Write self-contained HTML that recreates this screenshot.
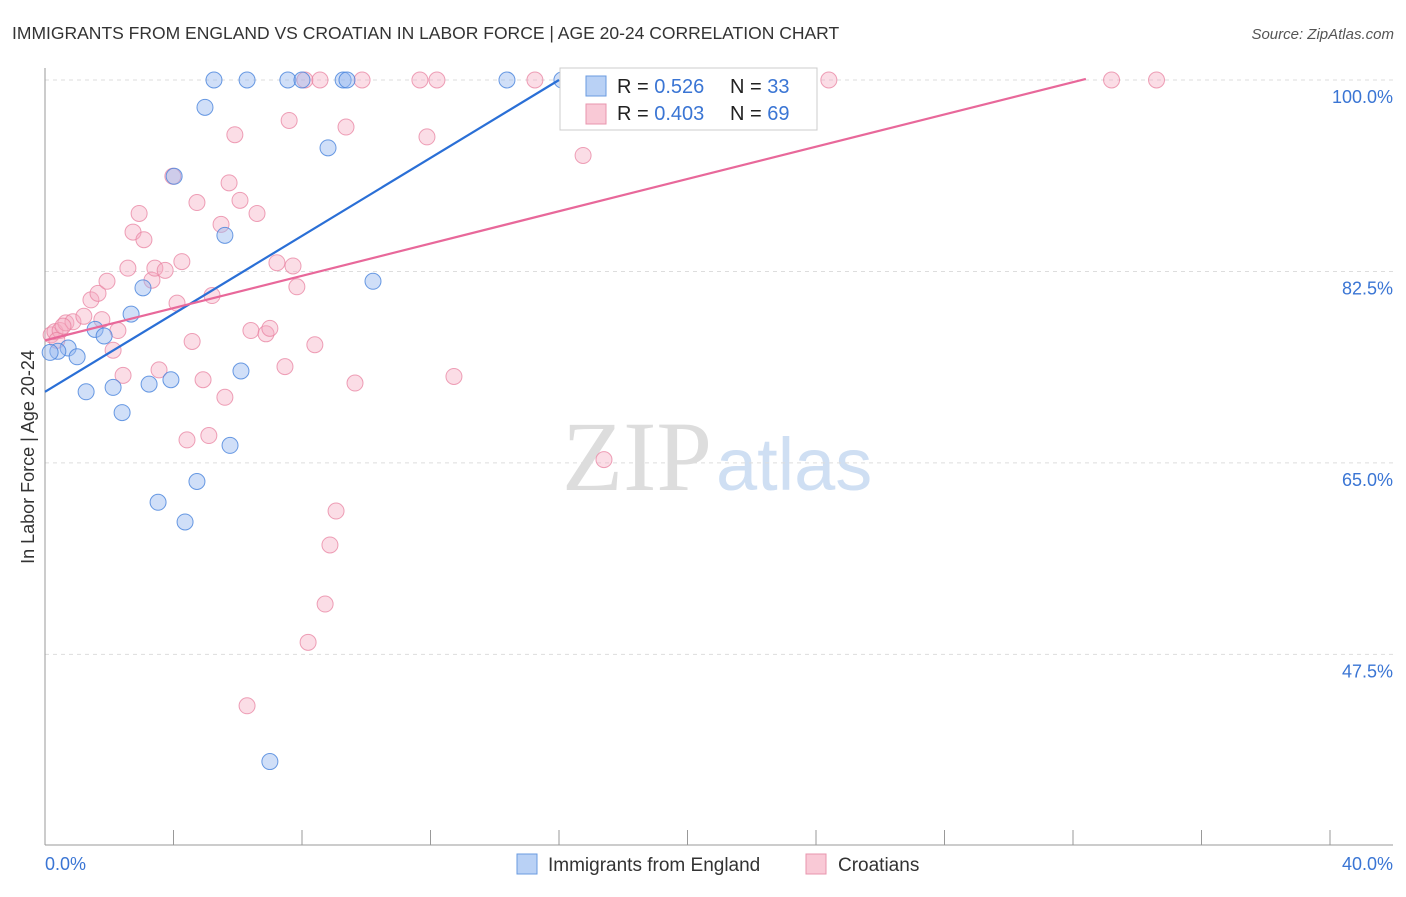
<!DOCTYPE html>
<html><head><meta charset="utf-8"><style>
body{margin:0;background:#fff;font-family:"Liberation Sans",sans-serif;}
</style></head><body>
<svg width="1406" height="892" xmlns="http://www.w3.org/2000/svg" font-family="Liberation Sans, sans-serif">
<text x="12" y="39" font-size="17.5" fill="#333">IMMIGRANTS FROM ENGLAND VS CROATIAN IN LABOR FORCE | AGE 20-24 CORRELATION CHART</text>
<text x="1394" y="39" font-size="15" fill="#555" font-style="italic" text-anchor="end">Source: ZipAtlas.com</text>
<text x="712" y="490" font-size="100" fill="#ddd" text-anchor="end" font-family="Liberation Serif, serif">ZIP</text>
<text x="716" y="490" font-size="74" fill="#cfdff3">atlas</text>
<g id="grid"></g>
<line x1="45" y1="68" x2="45" y2="845" stroke="#999"/>
<line x1="45" y1="845" x2="1393" y2="845" stroke="#999"/>
<text transform="translate(34,457) rotate(-90)" font-size="18" fill="#333" text-anchor="middle">In Labor Force | Age 20-24</text>
<text x="45" y="870" font-size="18" fill="#3a75d4">0.0%</text>
<text x="1393" y="870" font-size="18" fill="#3a75d4" text-anchor="end">40.0%</text>
<g id="marks"></g>
<g>
<rect x="560" y="68" width="257" height="62" fill="#fff" stroke="#ccc"/>
<rect x="586" y="76" width="20" height="20" fill="#b9d1f5" stroke="#6a9be0"/>
<text x="617" y="93" font-size="20" fill="#222">R = <tspan fill="#3a75d4">0.526</tspan></text>
<text x="730" y="93" font-size="20" fill="#222">N = <tspan fill="#3a75d4">33</tspan></text>
<rect x="586" y="104" width="20" height="20" fill="#f9c9d6" stroke="#e895ae"/>
<text x="617" y="120" font-size="20" fill="#222">R = <tspan fill="#3a75d4">0.403</tspan></text>
<text x="730" y="120" font-size="20" fill="#222">N = <tspan fill="#3a75d4">69</tspan></text>
</g>
<g>
<rect x="517" y="854" width="20" height="20" fill="#b9d1f5" stroke="#6a9be0"/>
<text x="548" y="871" font-size="19" fill="#333">Immigrants from England</text>
<rect x="806" y="854" width="20" height="20" fill="#f9c9d6" stroke="#e895ae"/>
<text x="838" y="871" font-size="19" fill="#333">Croatians</text>
</g>
</svg>
<script>
const yTicks=[100,82.5,65,47.5];
const yTickLabels=["100.0%","82.5%","65.0%","47.5%"];
const xTicks=[0,4,8,12,16,20,24,28,32,36,40];
const blueX=[5.26,6.29,7.56,8.0,9.28,9.4,14.38,16.09,20.4,4.98,8.81,4.02,5.6,10.21,3.05,2.68,1.56,1.84,0.72,0.4,1.0,0.16,3.24,2.12,1.28,3.92,6.1,2.4,5.76,4.73,3.52,4.36,7.0];
const blueY=[100,100,100,100,100,100,100,100,100,97.5,93.8,91.2,85.8,81.6,81.0,78.6,77.2,76.6,75.5,75.2,74.7,75.1,72.2,71.9,71.5,72.6,73.4,69.6,66.6,63.3,61.4,59.6,37.7];
const pinkX=[0.19,0.31,0.47,0.65,0.87,1.21,1.43,1.65,1.93,1.77,2.12,2.27,2.43,2.58,2.74,2.93,3.08,3.33,3.42,3.55,3.74,3.98,4.11,4.26,4.42,4.58,4.73,4.92,5.1,5.2,5.48,5.6,5.73,5.91,6.07,6.41,6.6,6.88,7.0,7.22,7.47,7.6,7.72,7.84,8.19,8.4,8.72,8.87,9.06,9.37,9.65,8.09,8.56,9.87,11.67,12.2,11.89,12.73,15.25,16.75,17.4,22.5,23.3,24.4,33.2,34.6,6.29,0.37,0.56];
const pinkY=[76.7,77.0,77.1,77.8,77.9,78.4,79.9,80.5,81.6,78.1,75.3,77.1,73.0,82.8,86.1,87.8,85.4,81.7,82.8,73.5,82.6,91.2,79.6,83.4,67.1,76.1,88.8,72.6,67.5,80.3,86.8,71.0,90.6,95.0,89.0,77.1,87.8,76.8,77.3,83.3,73.8,96.3,83.0,81.1,48.6,75.8,52.1,57.5,60.6,95.7,72.3,100,100,100,100,100,94.8,72.9,100,93.1,65.3,100,100,100,100,100,42.8,76.2,77.5];
const blueLineX=[0,16];
const blueLineY=[71.5,100];
const pinkLineX=[0,32.4];
const pinkLineY=[76.2,100.1];
const NS="http://www.w3.org/2000/svg";
const sx=v=>45+v*32.125;
const sy=v=>80+(100-v)*10.94;
const grid=document.getElementById('grid');
const marks=document.getElementById('marks');
function mk(t,a,p){const e=document.createElementNS(NS,t);for(const k in a)e.setAttribute(k,a[k]);p.appendChild(e);return e;}
yTicks.forEach((v,i)=>{
 const l=mk('line',{x1:45,x2:1393,y1:sy(v),y2:sy(v),stroke:'#ddd','stroke-dasharray':'4,4'},grid);
 
 
 const t=mk('text',{x:1393,y:sy(v)+23,'font-size':18,fill:'#3a75d4','text-anchor':'end'},grid);
 t.textContent=yTickLabels[i];
 
 
});
xTicks.forEach(v=>{
 const l=mk('line',{x1:sx(v),x2:sx(v),y1:830,y2:845,stroke:'#999'},grid);
 
 
});
pinkX.forEach((x,i)=>{
 const c=mk('circle',{cx:sx(x),cy:sy(pinkY[i]),r:8,fill:'rgba(246,170,192,0.4)',stroke:'rgba(232,130,160,0.75)','stroke-width':1},marks);
 
 
});
blueX.forEach((x,i)=>{
 const c=mk('circle',{cx:sx(x),cy:sy(blueY[i]),r:8,fill:'rgba(150,185,240,0.45)',stroke:'rgba(70,130,220,0.8)','stroke-width':1},marks);
 
 
});
const bl=mk('line',{x1:sx(blueLineX[0]),y1:sy(blueLineY[0]),x2:sx(blueLineX[1]),y2:sy(blueLineY[1]),stroke:'#2a6fd6','stroke-width':2.2},marks);


const pl=mk('line',{x1:sx(pinkLineX[0]),y1:sy(pinkLineY[0]),x2:sx(pinkLineX[1]),y2:sy(pinkLineY[1]),stroke:'#e8689a','stroke-width':2.2},marks);


</script>
</body></html>
